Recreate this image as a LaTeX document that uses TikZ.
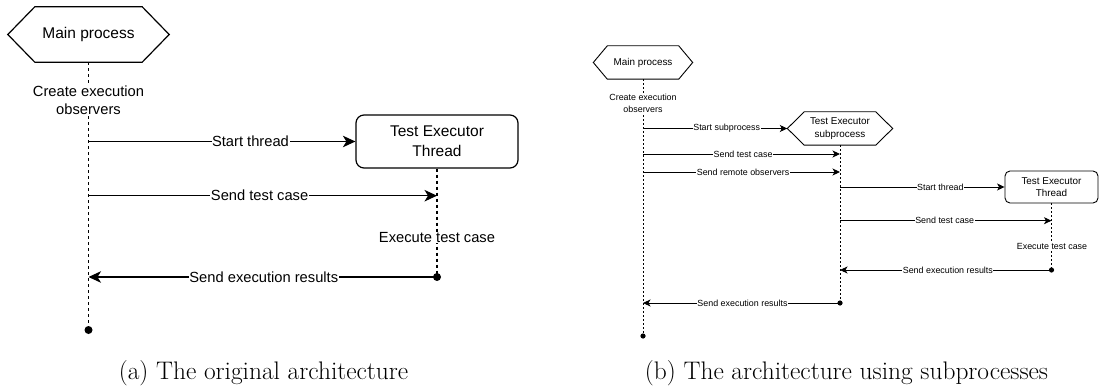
\documentclass[tikz,border=0pt]{standalone}
\usepackage{fontspec}
\setsansfont{Liberation Sans}
\usetikzlibrary{arrows.meta,calc,backgrounds}

% hexagon outline around a rectangular node: #2 = node name, #3 = tip depth
\newcommand\drawhex[3][]{%
  \draw[#1] (#2.west) -- ($(#2.north west)+(#3,0)$) -- ($(#2.north east)+(-#3,0)$)
    -- (#2.east) -- ($(#2.south east)+(-#3,0)$) -- ($(#2.south west)+(#3,0)$) -- cycle;}

\tikzset{
  % large diagram
  shapeA/.style={font=\sffamily\fontsize{15.5}{20}\selectfont, align=center, inner sep=0pt},
  boxA/.style={shapeA, draw, line width=1.2pt, rounded corners=8pt},
  lblA/.style={font=\sffamily\fontsize{14.7}{18.3}\selectfont, fill=white, inner sep=0.6pt, align=center},
  lifeA/.style={dash pattern=on 3pt off 3pt, line width=1.2pt},
  msgA/.style={line width=1.2pt, -{Stealth[length=12.5pt,width=11.5pt,inset=3.5pt]}},
  dotA/.style={fill=black},
  % small diagram
  shapeB/.style={font=\sffamily\fontsize{9.9}{12.6}\selectfont, align=center, inner sep=0pt},
  boxB/.style={shapeB, draw, line width=0.9pt, rounded corners=5pt},
  lblB/.style={font=\sffamily\fontsize{8.9}{12}\selectfont, fill=white, inner sep=0.5pt, align=center},
  lifeB/.style={dash pattern=on 2pt off 2pt, line width=0.9pt},
  msgB/.style={line width=0.9pt, -{Stealth[length=7.5pt,width=7pt,inset=2pt]}},
  caption/.style={anchor=base, font=\fontsize{25.4}{30}\selectfont, inner sep=0pt},
}

\begin{document}
\begin{tikzpicture}[x=1pt,y=-1pt]
\useasboundingbox (0,0) rectangle (1099,387);

% ---------- (a) original architecture ----------
\node[shapeA, minimum width=161pt, minimum height=55pt] (mainA) at (88.5,34.5) {Main process};
\drawhex[line width=1.2pt]{mainA}{27}
\node[boxA, minimum width=162pt, minimum height=53pt] (thrA) at (437,141.5) {Test Executor\\Thread};

\coordinate (endA) at (88.5,330);
\coordinate (a2s) at (88.5,195.7);
\coordinate (a2e) at (437,195.7);
\coordinate (a3s) at (437,277);
\coordinate (a3e) at (88.5,277);

\begin{scope}[on background layer]
  \draw[lifeA] (mainA.south) -- (endA);
  \draw[lifeA] (thrA.south) -- (a3s);
\end{scope}

\node[lblA] (obsA) at (88.5,100) {Create execution\\observers};
\node[lblA] (execA) at (437,237.7) {Execute test case};

\draw[msgA] (mainA.south |- thrA.west) -- node[lblA, pos=0.607] {Start thread} (thrA.west);
\draw[msgA] (a2s) -- node[lblA, pos=0.491] {Send test case} (a2e);
\draw[msgA] (a3s) -- node[lblA, pos=0.497] {Send execution results} (a3e);
\fill[dotA] (a3s) circle (4pt);
\fill[dotA] (endA) circle (4pt);

\node[caption] (capA) at (263.5,379) {(a) The original architecture};

% ---------- (b) architecture using subprocesses ----------
\node[shapeB, minimum width=99pt, minimum height=33pt] (mainB) at (643,62.5) {Main process};
\drawhex[line width=0.9pt]{mainB}{14}
\node[shapeB, minimum width=105pt, minimum height=33pt] (subB) at (840,128.5) {Test Executor\\subprocess};
\drawhex[line width=0.9pt]{subB}{17}
\node[boxB, minimum width=93pt, minimum height=32pt] (thrB) at (1051.5,187) {Test Executor\\Thread};

\coordinate (endB) at (643,336);
\coordinate (b2s) at (643,154);
\coordinate (b2e) at (840,154);
\coordinate (b3s) at (643,172);
\coordinate (b3e) at (840,172);
\coordinate (b5s) at (840,220.7);
\coordinate (b5e) at (1051.5,220.7);
\coordinate (b6s) at (1051.5,270);
\coordinate (b6e) at (840,270);
\coordinate (b7s) at (840,303);
\coordinate (b7e) at (643,303);

\begin{scope}[on background layer]
  \draw[lifeB] (mainB.south) -- (endB);
  \draw[lifeB] (subB.south) -- (b7s);
  \draw[lifeB] (thrB.south) -- (b6s);
\end{scope}

\node[lblB] (obsB) at (643,103) {Create execution\\observers};
\node[lblB] (execB) at (1052,246) {Execute test case};

\draw[msgB] (mainB.south |- subB.west) -- node[lblB, pos=0.58] {Start subprocess} (subB.west);
\draw[msgB] (b2s) -- node[lblB, pos=0.508] {Send test case} (b2e);
\draw[msgB] (b3s) -- node[lblB, pos=0.508] {Send remote observers} (b3e);
\draw[msgB] (subB.south |- thrB.west) -- node[lblB, pos=0.61] {Start thread} (thrB.west);
\draw[msgB] (b5s) -- node[lblB, pos=0.495] {Send test case} (b5e);
\draw[msgB] (b6s) -- node[lblB, pos=0.49] {Send execution results} (b6e);
\draw[msgB] (b7s) -- node[lblB, pos=0.495] {Send execution results} (b7e);
\fill[dotA] (b6s) circle (2.6pt);
\fill[dotA] (b7s) circle (2.6pt);
\fill[dotA] (endB) circle (2.6pt);

\node[caption] (capB) at (846.5,379) {(b) The architecture using subprocesses};
\end{tikzpicture}
\end{document}
